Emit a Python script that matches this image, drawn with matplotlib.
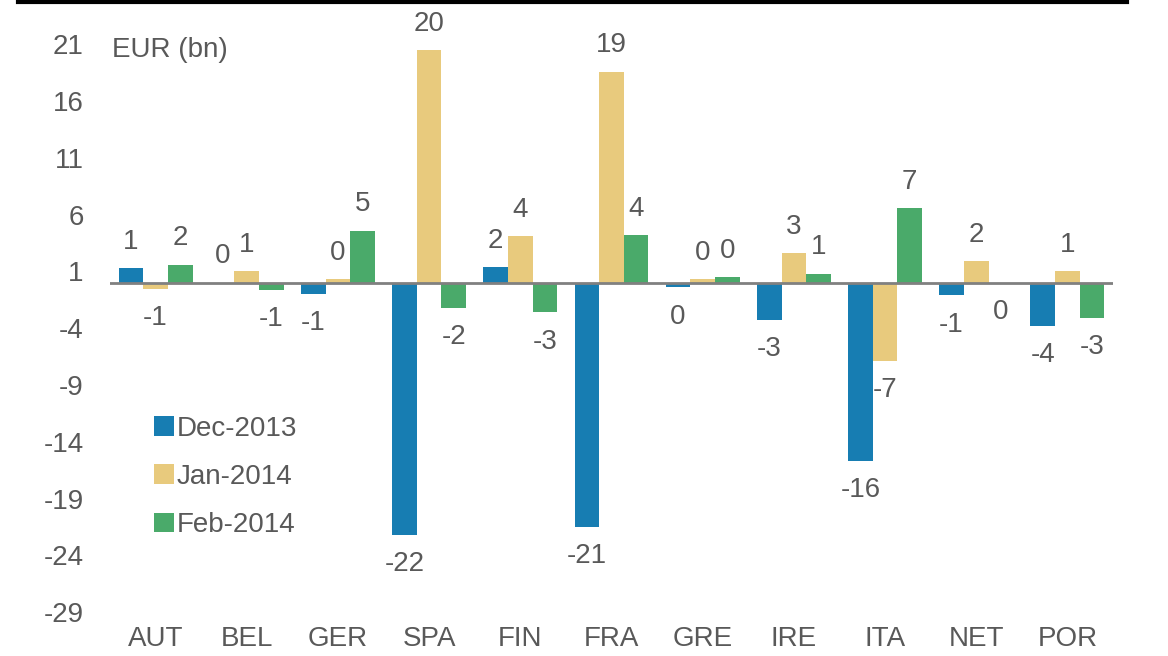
import numpy as np
import matplotlib
matplotlib.use("Agg")
import matplotlib.pyplot as plt
from matplotlib.lines import Line2D

plt.rcParams['font.family'] = ['Liberation Sans', 'DejaVu Sans']
plt.rcParams['axes.unicode_minus'] = False

# Data (EUR bn)
countries = ['AUT', 'BEL', 'GER', 'SPA', 'FIN', 'FRA', 'GRE', 'IRE', 'ITA', 'NET', 'POR']
series_names = ['Dec-2013', 'Jan-2014', 'Feb-2014']
dec_2013 = [1.3, 0.0, -1.0, -22.2, 1.4, -21.5, -0.4, -3.3, -15.7, -1.1, -3.8]
jan_2014 = [-0.5, 1.0, 0.3, 20.5, 4.1, 18.6, 0.3, 2.6, -6.9, 1.9, 1.0]
feb_2014 = [1.6, -0.6, 4.6, -2.2, -2.6, 4.2, 0.5, 0.8, 6.6, 0.0, -3.1]
dec_labels = ['1', '0', '-1', '-22', '2', '-21', '0', '-3', '-16', '-1', '-4']
jan_labels = ['-1', '1', '0', '20', '4', '19', '0', '3', '-7', '2', '1']
feb_labels = ['2', '-1', '5', '-2', '-3', '4', '0', '1', '7', '0', '-3']
y_ticks = [21, 16, 11, 6, 1, -4, -9, -14, -19, -24, -29]

colors = ['#177db2', '#e8ca7d', '#4aaa6a']
text_color = '#595959'

fig = plt.figure(figsize=(11.68, 6.56), dpi=100)
ax = fig.add_axes([0.0942, 0.046, 0.8587, 0.921])

x = np.arange(len(countries))
width = 0.27
values = [dec_2013, jan_2014, feb_2014]
labels = [dec_labels, jan_labels, feb_labels]

for i, (vals, labs) in enumerate(zip(values, labels)):
    pos = x + (i - 1) * width
    ax.bar(pos, vals, width, color=colors[i], label=series_names[i], zorder=2)
    for px, v, lab in zip(pos, vals, labs):
        # labels outside the bar end
        up = v > 0 or (v == 0 and i != 2)
        off = 19 if up else -21
        ax.annotate(lab, (px, v), xytext=(0, off), textcoords='offset points',
                    ha='center', va='center', fontsize=20, color=text_color)

ax.axhline(0, color='#808080', linewidth=2, zorder=3)

ax.set_xlim(-0.5, len(countries) - 0.5)
ax.set_ylim(-30.2, 23)
ax.set_yticks(y_ticks)
ax.set_xticks(x)
ax.set_xticklabels(countries)
ax.tick_params(axis='both', length=0, labelsize=20, colors=text_color)
ax.tick_params(axis='y', pad=19)
ax.tick_params(axis='x', pad=0)
for s in ax.spines.values():
    s.set_visible(False)

ax.text(0.002, 0.953, 'EUR (bn)', transform=ax.transAxes, fontsize=20,
        color=text_color, va='center', ha='left')

leg = ax.legend(loc='upper left', bbox_to_anchor=(0.044, 0.348), frameon=False,
                fontsize=20, handlelength=0.7, handleheight=0.7,
                handletextpad=0.12, labelspacing=0.8, borderpad=0, borderaxespad=0)
for t in leg.get_texts():
    t.set_color(text_color)

# black rule across the top of the page
fig.add_artist(Line2D([18 / 1168, 1127 / 1168], [0.9975, 0.9975],
                      transform=fig.transFigure, color='black', linewidth=3))

fig.savefig('out.png', dpi=100)
